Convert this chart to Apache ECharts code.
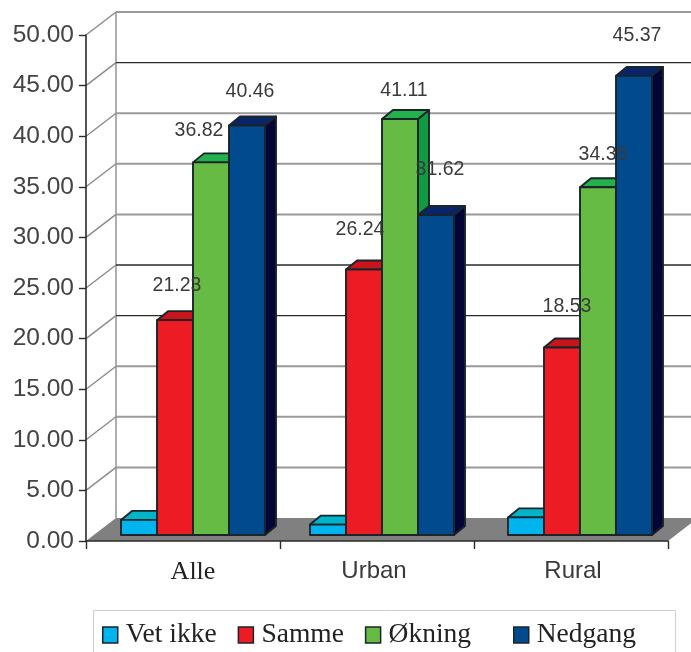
<!DOCTYPE html>
<html>
<head>
<meta charset="utf-8">
<style>html,body{margin:0;padding:0;background:#fff}#chart{width:691px;height:652px}</style>
<script src="https://cdn.jsdelivr.net/npm/echarts@6/dist/echarts.min.js"></script>
</head>
<body>
<div id="chart"></div>
<script>
// Survey shares by area, in percent
const categories = ['Alle', 'Urban', 'Rural'];
const seriesNames = ['Vet ikke', 'Samme', 'Økning', 'Nedgang'];
const vetIkke = [1.49, 1.03, 1.74];
const samme = [21.23, 26.24, 18.53];
const okning = [36.82, 41.11, 34.36];
const nedgang = [40.46, 31.62, 45.37];
const yTicks = [0, 5, 10, 15, 20, 25, 30, 35, 40, 45, 50];

const allValues = [vetIkke, samme, okning, nedgang];

// Pseudo-3D projection, in pixels
const WALL_DX = 30, WALL_DY = -23;
const BAR_BASE_LIFT = 6, BAR_W = 36, DEPTH_DX = 11, DEPTH_DY = -9;
const clusterShift = [10, 5, 9];
const faces = [
  { front: '#00B4EE', top: '#00B5C9', side: '#007f9e' },
  { front: '#ED1C24', top: '#C8141B', side: '#8f0f14' },
  { front: '#66BB44', top: '#22B14C', side: '#109A42' },
  { front: '#004A8D', top: '#0A2469', side: '#020535' }
];
const OUTLINE = '#1b2429';
const darkGridTicks = [45, 25, 20];
// Hand-placed value labels: [dx from bar centre, dy above bar top]
const labelPlacement = [
  [null, [2, 35], [-12, 32], [3, 34]],
  [null, [-4, 40], [4, 28], [4, 45]],
  [null, [5, 41], [5, 33], [3, 40]]
];

function poly(points, fill) {
  return {
    type: 'polygon',
    shape: { points },
    style: { fill, stroke: OUTLINE, lineWidth: 1.9, lineJoin: 'round' }
  };
}

// Floor and back wall, placed from the value scale
function renderWalls(params, api) {
  const value = api.value(0);
  const cs = params.coordSys;
  const y = api.coord([0, value])[1];
  const x0 = cs.x, x1 = cs.x + cs.width;
  const tone = darkGridTicks.includes(value) ? '#2a2a2a' : '#9a9a9a';
  const width = darkGridTicks.includes(value) ? 1.3 : 2;
  const kids = [];
  if (value === 0) {
    kids.push({
      type: 'polygon',
      shape: { points: [[x0, y], [x1, y], [x1 + WALL_DX, y + WALL_DY], [x0 + WALL_DX, y + WALL_DY]] },
      style: { fill: '#808080' }
    });
    const topY = api.coord([0, 50])[1];
    kids.push({
      type: 'line',
      shape: { x1: x0 + WALL_DX, y1: y + WALL_DY, x2: x0 + WALL_DX, y2: topY + WALL_DY },
      style: { stroke: '#9a9a9a', lineWidth: 1.6 }
    });
  } else {
    kids.push({
      type: 'line',
      shape: { x1: x0 + WALL_DX, y1: y + WALL_DY, x2: x1 + WALL_DX, y2: y + WALL_DY },
      style: { stroke: tone, lineWidth: width }
    });
    kids.push({
      type: 'line',
      shape: { x1: x0, y1: y, x2: x0 + WALL_DX, y2: y + WALL_DY },
      style: { stroke: '#8a8a8a', lineWidth: 1.4 }
    });
  }
  return { type: 'group', children: kids };
}

function barLeft(api, cat, seriesIndex) {
  const c = api.coord([cat, 0])[0];
  return c + clusterShift[cat] - 2 * BAR_W + seriesIndex * BAR_W;
}

function renderBar(seriesIndex) {
  return function (params, api) {
    const cat = api.value(0);
    const left = barLeft(api, cat, seriesIndex);
    const right = left + BAR_W;
    const base = api.coord([cat, 0])[1] - BAR_BASE_LIFT;
    const top = api.coord([cat, api.value(1)])[1] - BAR_BASE_LIFT;
    const f = faces[seriesIndex];
    return {
      type: 'group',
      children: [
        poly([[right, base], [right + DEPTH_DX, base + DEPTH_DY], [right + DEPTH_DX, top + DEPTH_DY], [right, top]], f.side),
        poly([[left, top], [right, top], [right + DEPTH_DX, top + DEPTH_DY], [left + DEPTH_DX, top + DEPTH_DY]], f.top),
        poly([[left, base], [right, base], [right, top], [left, top]], f.front)
      ]
    };
  };
}

// Value labels sit above all bars, and the unknown-share bars carry none
function renderLabel(params, api) {
  const cat = api.value(0), si = api.value(1), val = api.value(2);
  const place = labelPlacement[cat][si];
  const cx = barLeft(api, cat, si) + BAR_W / 2 + place[0];
  const y = api.coord([cat, val])[1] - BAR_BASE_LIFT - place[1];
  return {
    type: 'text',
    style: {
      x: cx, y, text: val.toFixed(2), align: 'center', verticalAlign: 'middle',
      fill: '#3a3a3a', font: '19.5px "Liberation Sans"'
    }
  };
}

const labelData = [];
categories.forEach((_, c) => {
  [1, 2, 3].forEach(s => labelData.push([c, s, allValues[s][c]]));
});

const legendBase = {
  orient: 'horizontal', top: 621, itemWidth: 15, itemHeight: 16,
  icon: 'rect', padding: 0,
  itemStyle: { borderColor: OUTLINE, borderWidth: 1.5 },
  textStyle: { fontFamily: '"Liberation Serif"', fontSize: 27.5, color: '#222', padding: [2, 0, 0, 3] }
};

const option = {
  animation: false,
  backgroundColor: '#fff',
  textStyle: { fontFamily: '"Liberation Sans"' },
  grid: { left: 86, right: 23, top: 35, bottom: 111, containLabel: false },
  xAxis: {
    type: 'category',
    data: categories,
    z: 5,
    axisLine: { lineStyle: { color: '#2a2a2a', width: 1.6 } },
    axisTick: { show: true, length: 8, lineStyle: { color: '#2a2a2a', width: 1.4 } },
    axisLabel: {
      margin: 18,
      formatter: v => v === 'Alle' ? '{alle|Alle}' : (v === 'Urban' ? '{urban|Urban}' : '{rural|Rural}'),
      rich: {
        alle: { fontFamily: '"Liberation Serif"', fontSize: 26, color: '#222', padding: [0, 0, 0, 20] },
        urban: { fontFamily: '"Liberation Sans"', fontSize: 24, color: '#3a3a3a', padding: [0, 6, 0, 0] },
        rural: { fontFamily: '"Liberation Sans"', fontSize: 24, color: '#3a3a3a', padding: [0, 0, 0, 4] }
      }
    },
    splitLine: { show: false }
  },
  yAxis: {
    type: 'value',
    min: 0, max: 50, interval: 5,
    z: 5,
    axisLine: { show: true, lineStyle: { color: '#2a2a2a', width: 1.6 } },
    axisTick: { show: true, length: 7, lineStyle: { color: '#2a2a2a', width: 1.4 } },
    axisLabel: {
      margin: 12,
      fontFamily: '"Liberation Sans"', fontSize: 24.5, color: '#444',
      formatter: v => v.toFixed(2)
    },
    splitLine: { show: false }
  },
  legend: [
    Object.assign({}, legendBase, { left: 102, itemGap: 21, data: seriesNames.slice(0, 3) }),
    Object.assign({}, legendBase, { left: 513, data: seriesNames.slice(3) })
  ],
  graphic: [{
    type: 'rect', z: -1,
    shape: { x: 93.5, y: 610.5, width: 582, height: 60 },
    style: { fill: '#fff', stroke: '#cfcfcf', lineWidth: 1 }
  }],
  series: [
    { type: 'custom', name: 'walls', z: 1, clip: false, silent: true, renderItem: renderWalls, data: yTicks.map(t => [t]), encode: { y: 0 } },
    ...seriesNames.map((name, i) => ({
      type: 'custom', name, z: 2 + i, clip: false, renderItem: renderBar(i),
      itemStyle: { color: faces[i].front },
      encode: { x: 0, y: 1 },
      data: allValues[i].map((v, c) => [c, v])
    })),
    { type: 'custom', name: 'labels', z: 8, clip: false, silent: true, renderItem: renderLabel, encode: { x: 0, y: 2 }, data: labelData }
  ]
};

echarts.init(document.getElementById('chart'), null, { renderer: 'canvas' }).setOption(option);
</script>
</body>
</html>
